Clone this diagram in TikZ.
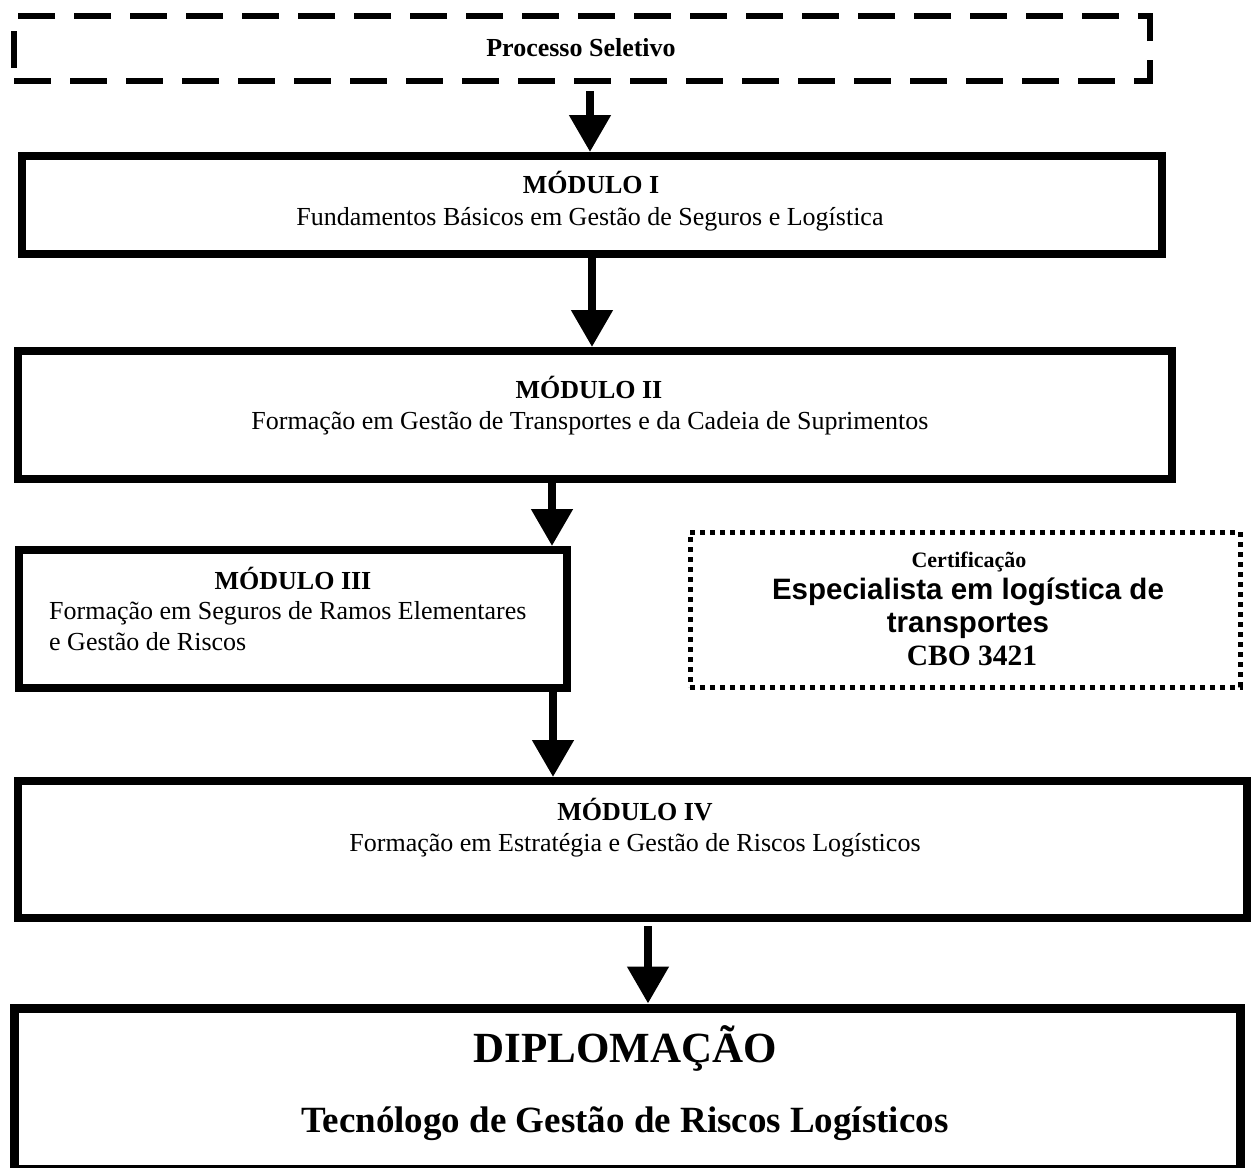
\documentclass[tikz,border=0pt]{standalone}
\usepackage{fontspec}
\setmainfont{Liberation Serif}
\newfontfamily\arialf{Liberation Sans}
\usetikzlibrary{arrows.meta}
\tikzset{
  boxx/.style={draw, line width=8pt, inner sep=0pt, rectangle},
  dashbox/.style={draw, line width=6pt, inner sep=0pt, rectangle, dash pattern=on 37pt off 19pt},
  dotbox/.style={draw, line width=5pt, inner sep=0pt, rectangle, dash pattern=on 5pt off 5pt},
  arr/.style={line width=8pt, -{Triangle[width=40pt,length=37pt]}},
  txt/.style={anchor=base, inner sep=0pt},
  ttl/.style={txt, font=\fontsize{26}{31}\selectfont\bfseries},
  dsc/.style={txt, font=\fontsize{26}{31}\selectfont},
}
\begin{document}
\begin{tikzpicture}[x=1pt,y=-1pt]
\useasboundingbox (0,0) rectangle (1254,1168);
% boxes
\node[dashbox, minimum width=1136pt, minimum height=65pt] (top) at (582,48.5) {};
\node[boxx, minimum width=1140pt, minimum height=98pt] (m1) at (592,205) {};
\node[boxx, minimum width=1154pt, minimum height=128pt] (m2) at (595,415) {};
\node[boxx, minimum width=548pt, minimum height=138pt] (m3) at (293,619) {};
\node[dotbox, minimum width=550pt, minimum height=155pt] (cert) at (965,609.5) {};
\node[boxx, minimum width=1229pt, minimum height=137pt] (m4) at (632.5,849.5) {};
\node[boxx, line width=9pt, minimum width=1226pt, minimum height=161pt] (dip) at (627,1088.5) {};
% texts
\node[ttl] (tps) at (581,56) {Processo Seletivo};
\node[ttl] (t1) at (591,193) {MÓDULO I};
\node[dsc] (d1) at (590,225) {Fundamentos Básicos em Gestão de Seguros e Logística};
\node[ttl] (t2) at (589,398) {MÓDULO II};
\node[dsc] (d2) at (590,429) {Formação em Gestão de Transportes e da Cadeia de Suprimentos};
\node[ttl] (t3) at (293,589) {MÓDULO III};
\node[dsc, anchor=base west] (d3a) at (49,619) {Formação em Seguros de Ramos Elementares};
\node[dsc, anchor=base west] (d3b) at (49,650) {e Gestão de Riscos};
\node[txt, font=\fontsize{22}{26}\selectfont\bfseries] (c1) at (969,567) {Certificação};
\node[txt, font=\fontsize{29.5}{33}\selectfont\arialf\bfseries] (c2) at (968,599) {Especialista em logística de};
\node[txt, font=\fontsize{29.5}{33}\selectfont\arialf\bfseries] (c3) at (968,632) {transportes};
\node[txt, font=\fontsize{29.5}{33}\selectfont\bfseries] (c4) at (972,665) {CBO 3421};
\node[ttl] (t4) at (635,820) {MÓDULO IV};
\node[dsc] (d4) at (635,851) {Formação em Estratégia e Gestão de Riscos Logísticos};
\node[txt, font=\fontsize{43}{50}\selectfont\bfseries] (dt) at (625,1062) {DIPLOMAÇÃO};
\node[txt, font=\fontsize{37}{44}\selectfont\bfseries] (dd) at (625,1132) {Tecnólogo de Gestão de Riscos Logísticos};
% arrows
\coordinate (a1) at (590,91);
\coordinate (a2) at (592,258);
\coordinate (a3) at (552,483);
\coordinate (a4) at (553,692);
\coordinate (a5) at (648,926);
\draw[arr] (a1) -- (m1.north -| a1);
\draw[arr] (a2) -- (m2.north -| a2);
\draw[arr] (a3) -- (m3.north -| a3);
\draw[arr] (a4) -- (m4.north -| a4);
\draw[arr] (a5) -- (dip.north -| a5);
\end{tikzpicture}
\end{document}
